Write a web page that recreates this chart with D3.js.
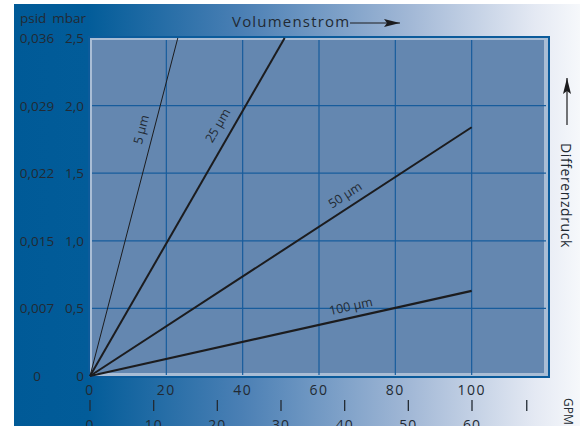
<!DOCTYPE html>
<html>
<head>
<meta charset="utf-8">
<script src="https://cdn.jsdelivr.net/npm/d3@7"></script>
<style>
    body { margin: 0; background: #fff; }
    svg { display: block; font-family: "Open Sans", "Noto Sans", sans-serif; }
</style>
</head>
<body>
<svg id="chart" width="580" height="426"></svg>
<script>
// flow in l/min, pressure in mbar
const series = [
    {name: "5 µm",   width: 1.0, points: [[0, 0], [23, 2.5]]},
    {name: "25 µm",  width: 2.0, points: [[0, 0], [51, 2.5]]},
    {name: "50 µm",  width: 2.0, points: [[0, 0], [100, 1.84]]},
    {name: "100 µm", width: 2.2, points: [[0, 0], [100, 0.63]]}
];
const flowTicks = [0, 20, 40, 60, 80, 100];
const mbarTicks = [0, 0.5, 1.0, 1.5, 2.0, 2.5];
const mbarLabels = ["0", "0,5", "1,0", "1,5", "2,0", "2,5"];
const psidLabels = ["0", "0,007", "0,015", "0,022", "0,029", "0,036"];
const gpmTicks = [0, 10, 20, 30, 40, 50, 60, 68.6];
const gpmLabels = ["0", "10", "20", "30", "40", "50", "60", ""];

// where each label sits along its line (fraction of the segment) and its offset
const seriesLabels = [
    {name: "5 µm",   t: 0.72, dy: -8},
    {name: "25 µm",  t: 0.72, dy: -10},
    {name: "50 µm",  t: 0.686, dy: -8},
    {name: "100 µm", t: 0.69, dy: -7}
];

const svg = d3.select("#chart");
const textColor = "#222a33";

const x = d3.scaleLinear().domain([0, 120]).range([90, 548]);
const y = d3.scaleLinear().domain([0, 2.5]).range([376, 38]);
const xGpm = d3.scaleLinear().domain([0, 60]).range([90, 472]);

// background gradient
const defs = svg.append("defs");
const bg = defs.append("linearGradient").attr("id", "bg").attr("x1", "0").attr("x2", "1").attr("y1", "0").attr("y2", "0");
bg.append("stop").attr("offset", "0").attr("stop-color", "#005a97");
bg.append("stop").attr("offset", "0.13").attr("stop-color", "#025c99");
bg.append("stop").attr("offset", "0.40").attr("stop-color", "#4a7fb4");
bg.append("stop").attr("offset", "0.70").attr("stop-color", "#a2b8d6");
bg.append("stop").attr("offset", "0.92").attr("stop-color", "#e4e9f3");
bg.append("stop").attr("offset", "1").attr("stop-color", "#f6f8fb");

svg.append("rect")
    .attr("x", 14).attr("y", 4)
    .attr("width", 566).attr("height", 422)
    .attr("fill", "url(#bg)");

// plot area
const [x0, x1] = x.range();
const [y0, y1] = [y(2.5), y(0)];

svg.append("rect")
    .attr("x", x0 - 2).attr("y", y0 - 2)
    .attr("width", x1 - x0 + 4).attr("height", y1 - y0 + 4)
    .attr("fill", "#0b5b9b");
svg.append("rect")
    .attr("x", x0).attr("y", y0)
    .attr("width", x1 - x0).attr("height", y1 - y0)
    .attr("fill", "#a9bdd5");
svg.append("rect")
    .attr("x", x0 + 2).attr("y", y0 + 2)
    .attr("width", x1 - x0 - 6).attr("height", y1 - y0 - 5)
    .attr("fill", "#6487b0");

// grid
const grid = svg.append("g").attr("stroke", "#175c9c").attr("stroke-width", 1.2);
grid.selectAll("line.v")
    .data(flowTicks.slice(1))
    .join("line")
    .attr("class", "v")
    .attr("x1", d => x(d)).attr("x2", d => x(d))
    .attr("y1", y0 + 2).attr("y2", y1 - 1);
grid.selectAll("line.h")
    .data(mbarTicks.slice(1, -1))
    .join("line")
    .attr("class", "h")
    .attr("x1", x0 + 2).attr("x2", x1 - 2)
    .attr("y1", d => y(d)).attr("y2", d => y(d));

// series lines
const line = d3.line().x(d => x(d[0])).y(d => y(d[1]));
svg.append("g")
    .selectAll("path")
    .data(series)
    .join("path")
    .attr("d", d => line(d.points))
    .attr("fill", "none")
    .attr("stroke", "#1c1c1e")
    .attr("stroke-width", d => d.width);

// series labels rotated along the lines
svg.append("g")
    .selectAll("text")
    .data(seriesLabels)
    .join("text")
    .attr("transform", d => {
        const p = series.find(e => e.name === d.name).points;
        const px = x(p[0][0]) + d.t * (x(p[1][0]) - x(p[0][0]));
        const py = y(p[0][1]) + d.t * (y(p[1][1]) - y(p[0][1]));
        const ang = Math.atan2(y(p[1][1]) - y(p[0][1]), x(p[1][0]) - x(p[0][0])) * 180 / Math.PI;
        return `translate(${px},${py}) rotate(${ang})`;
    })
    .attr("dy", d => d.dy)
    .attr("text-anchor", "middle")
    .attr("font-size", 12.5)
    .attr("fill", textColor)
    .text(d => d.name);

// left labels
const left = svg.append("g").attr("font-size", 13.5).attr("fill", textColor);
left.selectAll("text.mbar")
    .data(mbarTicks)
    .join("text")
    .attr("class", "mbar")
    .attr("x", 84)
    .attr("y", d => y(d) + 5)
    .attr("text-anchor", "end")
    .text((d, i) => mbarLabels[i]);
left.selectAll("text.psid")
    .data(mbarTicks)
    .join("text")
    .attr("class", "psid")
    .attr("x", 37)
    .attr("y", d => y(d) + 5)
    .attr("text-anchor", "middle")
    .text((d, i) => psidLabels[i]);
left.append("text").attr("x", 20).attr("y", 23).text("psid");
left.append("text").attr("x", 86).attr("y", 23).attr("text-anchor", "end").text("mbar");

// bottom flow axis labels
svg.append("g")
    .selectAll("text")
    .data(flowTicks)
    .join("text")
    .attr("x", d => x(d))
    .attr("y", 395)
    .attr("text-anchor", "middle")
    .attr("font-size", 14)
    .attr("letter-spacing", 1.5)
    .attr("fill", textColor)
    .text(d => d);

// GPM axis
const gpm = svg.append("g");
gpm.selectAll("line")
    .data(gpmTicks)
    .join("line")
    .attr("x1", d => xGpm(d)).attr("x2", d => xGpm(d))
    .attr("y1", 400).attr("y2", 411)
    .attr("stroke", textColor)
    .attr("stroke-width", 1.3);
gpm.selectAll("text")
    .data(gpmTicks)
    .join("text")
    .attr("x", d => xGpm(d))
    .attr("y", 430)
    .attr("text-anchor", "middle")
    .attr("font-size", 14)
    .attr("letter-spacing", 1)
    .attr("fill", textColor)
    .text((d, i) => gpmLabels[i]);
gpm.append("text")
    .attr("transform", "translate(564,398) rotate(90)")
    .attr("font-size", 12)
    .attr("fill", textColor)
    .text("GPM");

// axis titles with arrows
defs.append("marker")
    .attr("id", "arrow")
    .attr("viewBox", "0 0 16 8")
    .attr("refX", 16).attr("refY", 4)
    .attr("markerWidth", 16).attr("markerHeight", 8)
    .attr("markerUnits", "userSpaceOnUse")
    .attr("orient", "auto")
    .append("path")
    .attr("d", "M0,0L16,4L0,8L3,4z")
    .attr("fill", "#1c1c1e");

svg.append("text")
    .attr("x", 232).attr("y", 27)
    .attr("font-size", 15)
    .attr("letter-spacing", 1.2)
    .attr("fill", textColor)
    .text("Volumenstrom");
svg.append("line")
    .attr("x1", 350).attr("x2", 400)
    .attr("y1", 23).attr("y2", 23)
    .attr("stroke", "#1c1c1e").attr("stroke-width", 1.2)
    .attr("marker-end", "url(#arrow)");

svg.append("text")
    .attr("transform", "translate(561,143) rotate(90)")
    .attr("font-size", 14)
    .attr("letter-spacing", 0.6)
    .attr("fill", textColor)
    .text("Differenzdruck");
svg.append("line")
    .attr("x1", 567).attr("x2", 567)
    .attr("y1", 125).attr("y2", 78)
    .attr("stroke", "#1c1c1e").attr("stroke-width", 1.2)
    .attr("marker-end", "url(#arrow)");
</script>
</body>
</html>
